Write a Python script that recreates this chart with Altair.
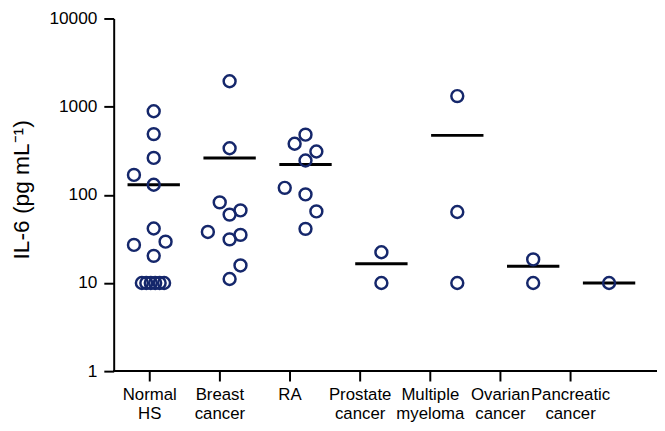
import altair as alt
import pandas as pd

categories = ["Normal HS", "Breast cancer", "RA", "Prostate cancer",
              "Multiple myeloma", "Ovarian cancer", "Pancreatic cancer"]

values = {
    "Normal HS": [887, 488, 262, 168, 130, 41.5, 27, 29.4, 20.3, 10, 10, 10, 10, 10, 10],
    "Breast cancer": [1940, 337, 82, 59.6, 66.5, 37.9, 31.2, 35.1, 15.8, 11.1],
    "RA": [481, 379, 310, 245, 120, 101, 64.8, 41.1],
    "Prostate cancer": [22.3, 10],
    "Multiple myeloma": [1318, 63.8, 10],
    "Ovarian cancer": [18.5, 10],
    "Pancreatic cancer": [10],
}
jitter = {
    "Normal HS": [0, 0, 0, -20, 0, 0, -20, 12, 0, -12, -7.5, -3, 1.5, 6, 10.5],
    "Breast cancer": [0, 0, -10, 0, 11, -22, 0, 11, 11, 0],
    "RA": [0, -11, 11, 0, -21, 0, 11, 0],
    "Prostate cancer": [0, 0],
    "Multiple myeloma": [0, 0, 0],
    "Ovarian cancer": [0, 0],
    "Pancreatic cancer": [0],
}
means = [130, 262, 221, 16.5, 472, 15.5, 10]

rows = []
for c in categories:
    for v, j in zip(values[c], jitter[c]):
        rows.append({"group": c, "value": v, "jit": j})
pts = pd.DataFrame(rows)
mdf = pd.DataFrame({"group": categories, "mean": means})
axdf = pd.DataFrame({"group": categories})

W, H = 550, 357
FONT = "Liberation Sans"
NAVY = "#15276b"

data_x = alt.Scale(domain=categories, range=[2.1, 539.9], paddingInner=0, paddingOuter=0)
yscale = alt.Scale(type="log", domain=[1, 10000], nice=False)

axis_layer = alt.Chart(axdf).mark_point(opacity=0).encode(
    x=alt.X("group:N", sort=categories,
            scale=alt.Scale(domain=categories, range=[0.5, 497.5], paddingInner=0, paddingOuter=0),
            axis=alt.Axis(title=None, domain=False, ticks=True, tickColor="black",
                          tickWidth=2, tickSize=10, labelAngle=0, labelFont=FONT,
                          labelFontSize=17, labelColor="black", labelPadding=6,
                          labelLineHeight=19, labelExpr="split(datum.label, ' ')",
                          labelBaseline="top", labelOverlap=False)),
    y=alt.value(0),
)

xline = alt.Chart(axdf).mark_rule(color="black", strokeWidth=2).encode(
    y=alt.datum(1, scale=yscale), x=alt.value(0), x2=alt.value(W)
)

points = alt.Chart(pts).mark_point(shape="circle", filled=False, color=NAVY,
                                    strokeWidth=2.5, size=145, opacity=1).encode(
    x=alt.X("group:N", sort=categories, scale=data_x, axis=None),
    xOffset=alt.XOffset("jit:Q", scale=alt.Scale(domain=[-38.4, 38.4])),
    y=alt.Y("value:Q", scale=yscale,
            axis=alt.Axis(values=[1, 10, 100, 1000, 10000], format="d", grid=False,
                          domainColor="black", domainWidth=2, tickColor="black",
                          tickWidth=2, tickSize=10, labelFont=FONT, labelFontSize=17.5,
                          labelColor="black", labelPadding=7,
                          title="IL-6 (pg mL⁻¹)", titleFont=FONT, titleFontSize=23,
                          titleFontWeight="normal", titleColor="black",
                          titleAngle=270, titleBaseline="alphabetic", titleAlign="center",
                          titleX=-86, titleY=173)),
)

mean_ticks = alt.Chart(mdf).mark_tick(color="black", size=53, thickness=3,
                                      orient="horizontal", opacity=1).encode(
    x=alt.X("group:N", sort=categories, scale=data_x, axis=None),
    y=alt.Y("mean:Q", scale=yscale),
)

chart = alt.layer(axis_layer, xline, mean_ticks, points).resolve_scale(
    x="independent"
).properties(
    width=W, height=H,
    autosize=alt.AutoSizeParams(type="none"),
    padding={"left": 107, "top": 8, "right": 0, "bottom": 58},
).configure_view(stroke=None)

chart.save("out.html", embed_options={"renderer": "svg", "actions": False})
